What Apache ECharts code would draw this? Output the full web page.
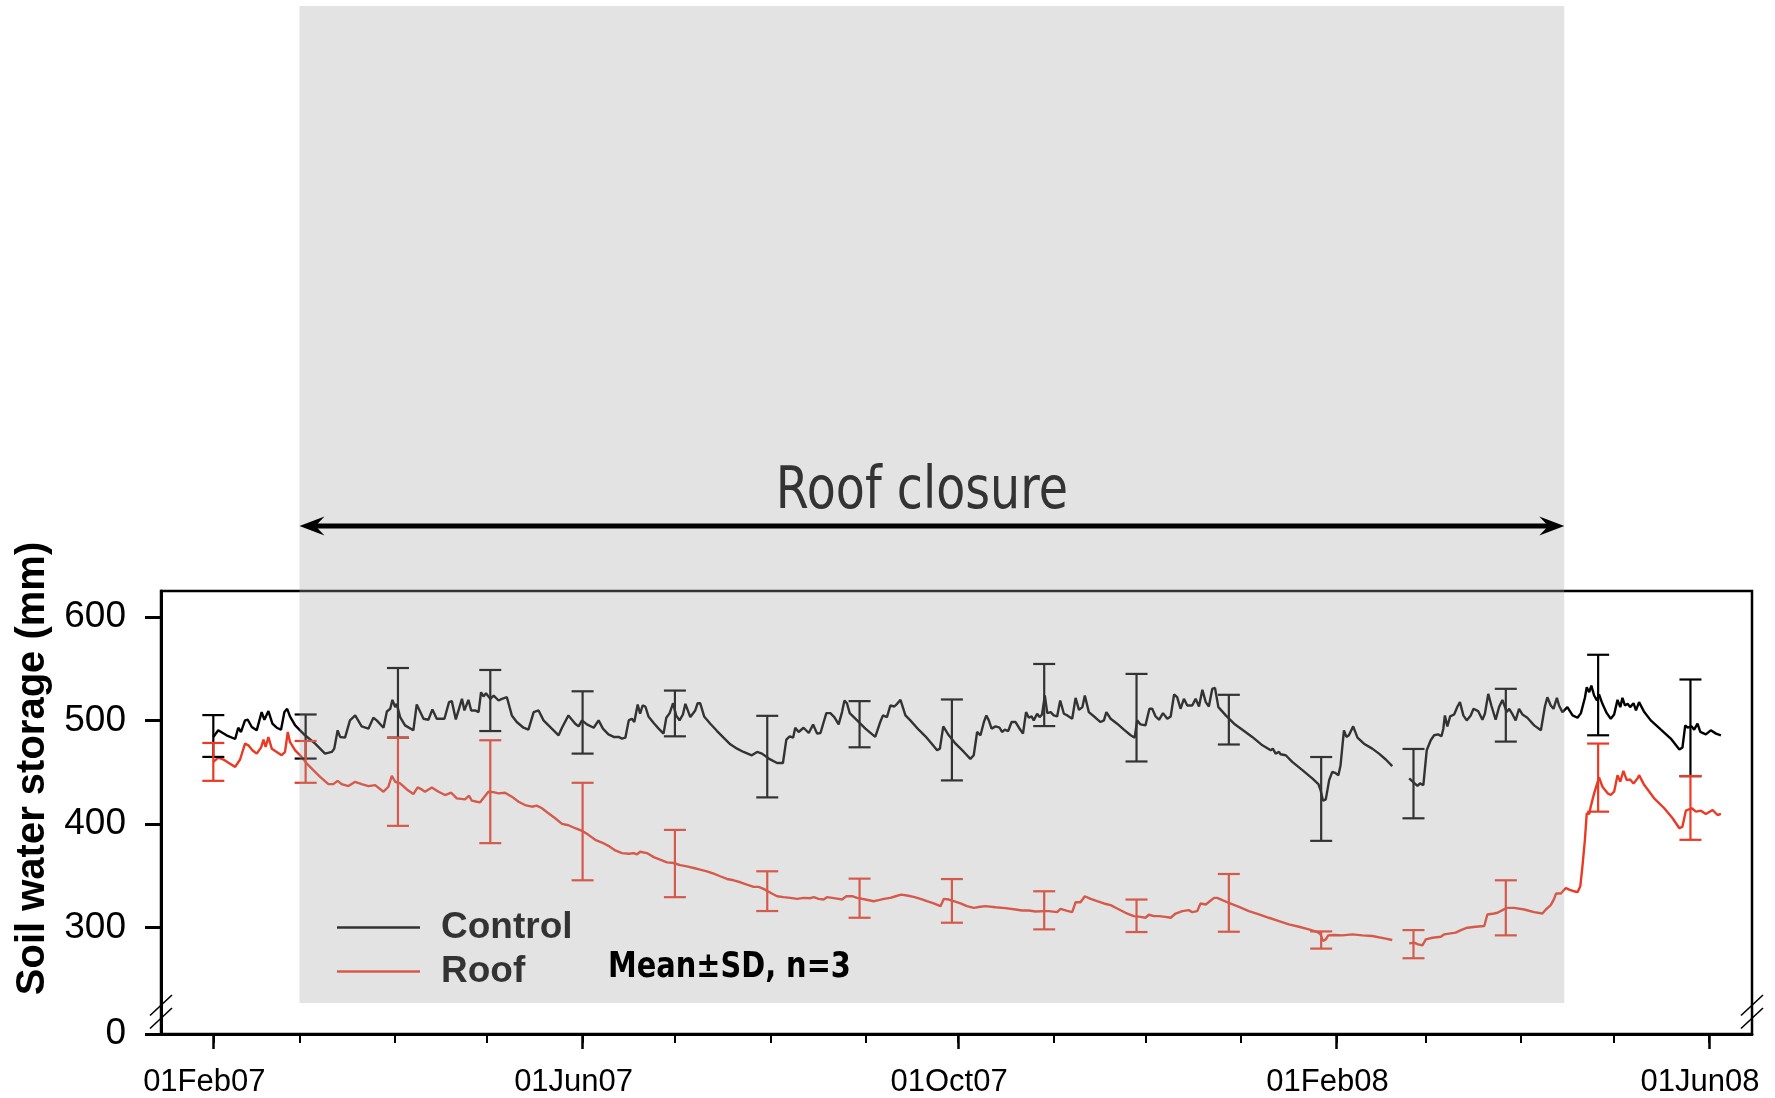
<!DOCTYPE html>
<html>
<head>
<meta charset="utf-8">
<title>Soil water storage</title>
<script src="https://cdn.jsdelivr.net/npm/echarts@6/dist/echarts.min.js"></script>
<style>
  html, body { margin: 0; padding: 0; background: #fff; }
  #chart { width: 1775px; height: 1098px; }
</style>
</head>
<body>
<div id="chart"></div>
<script>
// Day 0 of the record is 01 Feb 2007; readings are [day, storage in mm].
const recordStart = '2007-02-01';

const controlReadings = [
  [0,484.0],[1.6,490.4],[4.3,485.6],[7.1,482.0],[8.1,492.9],[9.0,488.8],[10.3,500.0],[11.2,500.6],[12.5,493.6],[14.1,490.4],
  [15.7,508.0],[16.6,500.6],[17.9,509.0],[19.2,496.8],[20.6,492.9],[22.0,491.0],[23.1,508.0],[24.0,511.2],[24.9,503.8],[26.6,495.2],
  [29.8,485.6],[33.1,477.5],[36.3,467.9],[38.5,469.5],[39.3,472.7],[40.4,490.4],[41.2,484.0],[42.8,483.3],[44.4,500.0],[46.1,504.8],
  [48.2,494.2],[50.4,492.0],[52.0,502.5],[53.1,500.0],[55.3,492.9],[56.4,508.6],[57.5,511.2],[58.2,519.8],[59.1,512.8],[59.6,516.0],
  [60.7,503.2],[62.3,495.2],[65.0,490.4],[66.1,515.4],[68.3,501.6],[69.9,500.6],[71.2,510.6],[72.6,501.6],[75.1,501.6],[76.6,517.6],
  [77.5,518.6],[78.8,500.9],[80.8,520.8],[81.6,509.6],[82.9,519.8],[83.8,509.6],[85.1,509.6],[86.2,508.0],[87.0,527.2],[87.8,523.1],
  [88.6,526.3],[90.0,520.8],[91.1,524.0],[92.7,519.2],[93.8,520.8],[95.4,522.4],[97.0,504.8],[98.6,498.4],[100.8,492.9],[102.4,491.0],
  [104.1,508.0],[105.7,509.6],[107.3,500.0],[110.0,492.0],[112.2,485.6],[113.3,492.9],[115.4,504.8],[117.6,496.8],[118.7,494.2],[119.8,500.0],
  [121.4,496.1],[123.6,492.9],[125.2,500.0],[126.6,492.0],[128.4,486.5],[130.1,484.0],[131.7,484.0],[132.8,482.4],[133.9,483.3],[135.0,500.0],
  [136.0,501.6],[136.8,498.4],[137.9,515.4],[138.7,506.4],[139.5,514.4],[140.4,513.4],[141.4,503.8],[143.1,497.4],[144.7,492.0],[146.3,487.2],
  [147.2,502.5],[148.3,507.0],[149.4,516.6],[150.4,504.8],[151.5,500.0],[152.6,505.7],[153.4,516.0],[155.0,503.2],[156.6,509.6],[157.4,516.6],
  [158.2,516.6],[159.5,503.8],[161.5,496.8],[163.7,489.7],[165.8,483.3],[168.0,476.9],[170.2,472.7],[172.3,469.5],[175.0,466.3],[176.7,469.5],
  [178.3,467.9],[180.5,463.1],[183.2,458.8],[185.1,458.8],[186.2,481.4],[187.3,484.6],[188.4,483.3],[189.1,492.9],[190.2,488.8],[191.8,492.9],
  [193.5,487.8],[194.9,496.1],[196.2,487.2],[197.3,487.8],[199.2,507.0],[200.5,507.0],[201.8,503.2],[203.2,496.1],[204.3,508.0],[205.1,519.2],
  [205.9,516.6],[206.8,507.0],[209.2,500.0],[211.9,492.0],[215.1,484.0],[216.6,497.4],[217.6,504.8],[218.9,503.2],[220.0,514.4],[221.3,513.4],
  [222.2,516.0],[223.3,519.8],[224.9,504.8],[226.5,500.0],[229.2,491.0],[231.4,484.6],[233.6,476.9],[235.2,471.1],[236.1,472.7],[237.2,494.2],
  [239.0,485.6],[241.2,477.5],[243.9,469.5],[246.0,462.8],[247.1,466.3],[248.2,488.8],[249.3,485.6],[250.4,498.4],[251.2,504.8],[252.0,500.0],
  [252.9,492.0],[254.2,494.2],[255.5,492.9],[256.3,488.8],[257.2,491.0],[258.3,489.7],[259.4,498.4],[260.7,498.4],[261.8,492.9],[263.1,487.2],
  [264.1,508.0],[265.0,502.5],[265.9,503.8],[266.6,500.0],[267.7,506.4],[268.5,503.2],[269.3,505.7],[270.2,524.0],[271.0,507.0],[272.1,508.0],
  [273.1,504.8],[274.2,503.8],[275.2,519.2],[276.4,506.4],[277.5,504.8],[279.1,501.6],[280.2,521.8],[281.3,510.2],[282.4,512.8],[283.2,524.0],
  [284.5,508.0],[286.7,502.5],[288.3,498.4],[289.4,500.0],[290.2,508.0],[291.6,501.6],[293.7,496.8],[295.9,491.0],[298.1,485.6],[299.4,483.3],
  [300.2,500.0],[301.3,496.1],[302.9,495.2],[304.2,511.2],[305.1,511.2],[306.2,503.8],[307.3,500.6],[308.6,507.0],[310.0,501.6],[311.1,503.8],
  [312.2,525.0],[313.2,522.4],[314.3,511.2],[315.4,520.8],[316.5,514.4],[318.1,514.4],[319.2,520.8],[320.3,513.4],[321.4,529.5],[322.5,517.6],
  [323.5,513.4],[324.6,530.4],[325.5,531.4],[326.6,512.8],[329.0,504.8],[331.7,496.8],[334.4,491.0],[337.6,484.0],[340.9,475.9],[343.6,471.1],
  [344.3,472.7],[345.2,467.9],[346.3,469.5],[346.8,467.3],[348.5,466.3],[350.6,459.9],[353.9,451.9],[357.1,443.9],[359.1,438.4],[359.8,432.7],
  [360.6,422.4],[361.5,423.7],[362.6,442.3],[363.6,450.3],[364.5,449.3],[365.6,447.1],[366.3,456.7],[367.4,490.4],[368.2,484.0],[369.0,485.6],
  [370.4,494.2],[371.8,483.3],[373.9,477.5],[376.6,472.7],[378.8,467.9],[381.0,462.2],[383.1,455.8],[385.8,null],[388.6,443.9],[390.2,439.7],
  [391.3,436.8],[392.1,439.1],[393.2,437.5],[394.3,471.1],[395.6,480.8],[396.7,485.6],[398.0,486.5],[399.1,484.6],[399.7,492.0],[400.2,504.8],
  [401.0,494.2],[401.9,503.8],[403.2,505.7],[404.3,513.4],[405.1,517.6],[406.2,504.8],[407.3,500.0],[408.6,504.8],[409.5,511.2],[411.0,509.0],
  [412.4,500.6],[413.2,506.4],[414.3,525.6],[415.3,514.4],[416.7,500.6],[417.8,512.8],[418.9,519.8],[420.3,508.0],[421.1,511.2],[422.2,505.7],
  [423.2,500.0],[424.3,511.2],[425.4,505.7],[427.0,502.5],[429.2,495.2],[431.4,490.4],[432.7,513.4],[433.5,522.4],[434.6,514.4],[435.5,511.2],
  [436.6,521.8],[437.3,514.4],[438.4,508.0],[440.0,512.8],[441.7,504.8],[443.3,502.5],[444.4,507.0],[445.7,521.8],[446.3,532.0],[447.1,527.2],
  [447.8,533.6],[448.7,524.0],[449.6,519.2],[450.3,525.0],[451.4,516.0],[452.8,507.0],[454.1,501.6],[455.2,505.7],[456.3,519.8],[457.2,512.8],
  [457.9,521.8],[458.7,514.4],[459.6,516.0],[460.4,512.8],[461.5,516.6],[462.3,509.6],[463.3,517.6],[465.0,508.0],[467.1,500.0],[470.4,491.0],
  [473.6,482.4],[476.4,471.8],[477.4,473.7],[478.3,495.2],[479.1,492.9],[480.4,494.2],[481.2,491.0],[482.3,496.8],[483.2,488.8],[485.0,486.5],
  [486.6,490.4],[488.3,487.2],[489.9,485.6]
];

const roofReadings = [
  [0,459.9],[1.6,464.1],[3.3,462.2],[4.9,459.0],[7.1,455.1],[8.7,462.2],[9.2,464.1],[10.3,477.5],[11.4,475.9],[12.7,471.1],
  [14.1,467.9],[15.5,473.7],[16.3,481.4],[17.0,474.3],[17.9,483.9],[19.0,472.7],[20.6,469.5],[22.2,466.3],[23.3,469.5],[24.2,488.8],
  [24.9,479.2],[26.6,471.1],[28.7,464.7],[30.4,458.3],[32.5,451.9],[34.7,445.5],[37.4,438.4],[39.0,438.4],[40.4,441.6],[41.7,438.4],
  [43.9,436.5],[46.1,440.7],[48.2,438.4],[50.4,436.5],[52.6,437.5],[55.3,431.1],[56.9,435.9],[58.0,446.5],[59.1,440.7],[60.7,439.1],
  [62.9,433.3],[65.0,428.8],[66.4,435.2],[67.7,433.3],[68.8,431.1],[71.0,435.2],[73.2,431.1],[75.3,427.9],[77.3,430.1],[79.1,424.7],
  [81.8,423.7],[83.1,427.2],[84.0,422.4],[85.6,421.4],[86.7,420.8],[88.3,426.9],[89.4,431.1],[91.0,430.7],[92.7,429.5],[94.8,430.1],
  [97.0,426.3],[99.2,421.4],[101.3,418.2],[103.5,416.6],[105.1,417.6],[106.8,415.1],[108.9,410.2],[111.1,405.4],[113.3,400.0],[115.4,398.7],
  [117.6,395.8],[119.8,393.3],[121.9,389.4],[124.1,384.6],[126.3,382.0],[128.4,378.8],[130.6,374.3],[132.8,371.8],[135.0,371.1],[136.6,371.8],
  [137.7,370.5],[138.7,373.1],[140.9,371.8],[143.1,367.9],[145.2,365.4],[147.4,362.8],[149.6,362.2],[151.7,360.2],[153.9,358.9],[156.1,357.4],
  [158.2,355.8],[160.4,354.2],[162.6,351.9],[164.7,349.4],[166.9,346.8],[169.1,345.5],[171.3,343.6],[173.4,341.3],[175.6,339.1],[177.2,339.1],
  [178.8,337.2],[181.5,332.7],[183.2,330.1],[185.3,329.2],[187.5,328.5],[189.7,327.6],[191.8,328.5],[194.0,328.2],[195.1,329.2],[196.7,327.6],
  [198.3,326.9],[199.4,329.2],[201.1,328.5],[203.2,327.6],[204.3,326.9],[205.7,330.1],[207.6,330.1],[209.2,328.5],[211.9,326.9],[214.6,325.3],
  [216.2,326.3],[217.9,327.6],[220.0,328.5],[221.7,330.1],[223.5,331.7],[225.4,330.8],[227.6,329.5],[229.8,327.6],[231.9,325.3],[234.1,323.1],
  [236.3,320.5],[237.4,327.6],[239.0,326.9],[240.6,325.3],[242.8,323.1],[244.9,320.5],[247.1,318.9],[249.3,319.9],[250.9,320.5],[254.2,319.5],
  [257.4,318.6],[260.7,317.3],[262.8,316.3],[265.0,316.3],[267.2,315.4],[270.2,315.7],[271.5,315.7],[274.2,314.7],[275.3,317.9],[277.5,316.0],
  [279.1,314.7],[280.2,324.3],[281.8,324.3],[283.2,330.1],[285.1,327.6],[287.2,325.3],[289.4,323.1],[291.6,321.5],[293.7,318.3],[296.4,314.1],
  [299.1,310.9],[301.3,310.2],[302.9,309.3],[304.0,312.2],[305.7,310.9],[307.3,310.9],[309.4,310.2],[311.1,309.3],[312.7,313.4],[314.9,315.7],
  [317.0,316.7],[318.1,314.7],[319.7,315.7],[320.8,323.1],[322.5,322.1],[323.8,325.3],[325.2,328.5],[326.2,328.5],[327.9,326.3],[330.4,323.1],
  [333.3,319.9],[336.5,315.7],[339.8,312.5],[343.0,309.3],[346.3,306.1],[349.5,302.9],[352.8,300.6],[356.0,298.1],[358.8,295.5],[359.8,293.3],
  [360.6,286.9],[361.5,288.4],[362.3,292.3],[364.2,292.6],[366.9,292.3],[370.1,293.3],[373.4,292.3],[376.6,291.7],[381.0,289.1],[383.1,287.8],
  [385.8,null],[388.6,284.6],[390.2,285.2],[391.5,283.6],[392.9,282.7],[394.0,288.4],[396.2,290.0],[398.9,291.0],[400.0,293.3],[402.1,294.2],
  [403.7,294.9],[405.4,297.4],[407.5,299.7],[410.2,300.6],[413.0,301.3],[414.0,312.5],[416.2,313.4],[417.3,314.1],[420.3,318.9],[422.7,318.9],
  [426.0,317.3],[429.2,314.7],[431.9,313.4],[433.0,317.3],[434.6,321.5],[435.7,327.6],[436.3,332.7],[437.9,332.7],[438.8,335.9],[439.5,338.1],
  [440.6,336.5],[442.2,334.9],[443.3,334.0],[444.2,339.7],[444.9,359.0],[445.7,384.6],[446.3,410.2],[447.1,409.6],[447.6,416.7],[448.7,429.5],
  [450.3,444.9],[451.4,435.9],[453.1,429.5],[454.1,427.9],[455.2,431.1],[456.3,447.1],[457.2,440.7],[458.2,451.3],[459.3,442.3],[460.4,442.9],
  [461.5,439.1],[462.8,443.9],[463.3,447.1],[465.0,437.5],[468.2,424.7],[471.5,415.1],[474.2,405.4],[476.4,395.8],[477.4,397.4],[478.5,412.8],
  [480.4,415.1],[481.8,411.8],[483.4,412.8],[485.0,409.6],[487.2,413.4],[488.8,408.6],[489.9,409.6]
];

// Mean ± SD of the three plots, sampled every 30 days
const sdDays      = [0, 30, 60, 90, 120, 150, 180, 210, 240, 270, 300, 330, 360, 390, 420, 450, 480];
const controlMean = [484.9, 484.4, 517.0, 519.2, 498.0, 506.7, 465.0, 496.3, 481.1, 524.5, 502.6, 500.7, 424.1, 438.9, 505.0, 524.5, 492.8];
const controlSD   = [20.2, 21.3, 33.6, 29.5, 30.1, 22.1, 39.4, 22.3, 39.1, 30.0, 42.3, 24.0, 40.5, 33.5, 25.5, 38.9, 46.7];
const roofMean    = [459.9, 459.9, 440.7, 431.1, 392.6, 361.7, 335.0, 328.2, 325.6, 316.5, 311.2, 323.7, 287.8, 283.8, 318.9, 444.7, 415.4];
const roofSD      = [18.3, 20.2, 42.6, 49.7, 47.1, 32.5, 19.2, 18.9, 21.1, 18.4, 15.7, 27.9, 8.3, 13.6, 26.6, 32.9, 30.8];

// Axes
const xRange = ['2007-01-15', '2008-06-15'];
const labelledTickDates = ['2007-02-01', '2007-06-01', '2007-10-01', '2008-02-01', '2008-06-01'];
const monthTickDates = ['2007-02-01','2007-03-01','2007-04-01','2007-05-01','2007-06-01','2007-07-01','2007-08-01','2007-09-01',
  '2007-10-01','2007-11-01','2007-12-01','2008-01-01','2008-02-01','2008-03-01','2008-04-01','2008-05-01','2008-06-01'];
const yTickValues = [300, 400, 500, 600];
const yBreakValue = 197;      // bottom of the broken axis, labelled as 0
const yBreakLabel = '0';
const yMax = 625;

// Roof closure period
const roofClosure = ['2007-03-01', '2008-04-15'];

const DAY = 86400000;
const MONTHS = ['Jan','Feb','Mar','Apr','May','Jun','Jul','Aug','Sep','Oct','Nov','Dec'];
function ts(s) { const p = s.split('-').map(Number); return Date.UTC(p[0], p[1] - 1, p[2]); }
function dateLabel(v) {
  const d = new Date(v);
  return String(d.getUTCDate()).padStart(2, '0') + MONTHS[d.getUTCMonth()] + String(d.getUTCFullYear() % 100).padStart(2, '0');
}
const T0 = ts(recordStart);
const toPoints = rows => rows.map(r => [T0 + r[0] * DAY, r[1] === null ? '-' : r[1]]);
const toBars = (mean, sd) => sdDays.map((d, i) => [T0 + d * DAY, mean[i] - sd[i], mean[i] + sd[i]]);

const FONT = "'Liberation Sans', Arial, Helvetica, sans-serif";
const BLACK = '#000000';
const RED = '#ea3a24';

function errorBarRenderer(color) {
  return function (params, api) {
    const x = api.value(0);
    const lo = api.coord([x, api.value(1)]);
    const hi = api.coord([x, api.value(2)]);
    const half = 11;
    const style = { stroke: color, lineWidth: 2.2 };
    return {
      type: 'group',
      children: [
        { type: 'line', shape: { x1: lo[0], y1: lo[1], x2: hi[0], y2: hi[1] }, style: style },
        { type: 'line', shape: { x1: lo[0] - half, y1: lo[1], x2: lo[0] + half, y2: lo[1] }, style: style },
        { type: 'line', shape: { x1: hi[0] - half, y1: hi[1], x2: hi[0] + half, y2: hi[1] }, style: style }
      ]
    };
  };
}

const chart = echarts.init(document.getElementById('chart'), null, { renderer: 'canvas' });

const option = {
  animation: false,
  backgroundColor: '#ffffff',
  grid: { left: 161, right: 23, top: 591, bottom: 63, show: true, borderColor: BLACK, borderWidth: 2.5, backgroundColor: 'transparent' },
  legend: {
    data: ['Control', 'Roof'],
    orient: 'vertical',
    left: 332, top: 904,
    icon: 'rect', itemWidth: 83, itemHeight: 2.5, itemGap: 7,
    selectedMode: false,
    textStyle: { fontFamily: FONT, fontSize: 37, fontWeight: 'bold', color: BLACK, lineHeight: 37, padding: [0, 0, 0, 16] }
  },
  xAxis: [
    {
      type: 'value', min: ts(xRange[0]), max: ts(xRange[1]),
      axisLine: { onZero: false, lineStyle: { color: BLACK, width: 3 } },
      axisTick: { customValues: labelledTickDates.map(ts), length: 15, lineStyle: { color: BLACK, width: 2.5 } },
      axisLabel: { customValues: labelledTickDates.map(ts), formatter: dateLabel, fontFamily: FONT, fontSize: 31, color: BLACK, margin: 33, padding: [0, 18, 0, 0] },
      splitLine: { show: false }
    },
    {
      type: 'value', gridIndex: 0, position: 'bottom', min: ts(xRange[0]), max: ts(xRange[1]),
      axisLine: { show: false, onZero: false },
      axisTick: { customValues: monthTickDates.map(ts), length: 9, lineStyle: { color: BLACK, width: 2 } },
      axisLabel: { show: false },
      splitLine: { show: false }
    }
  ],
  yAxis: {
    type: 'value', min: yBreakValue, max: yMax,
    axisLine: { show: true, onZero: false, lineStyle: { color: BLACK, width: 3 } },
    axisTick: { show: true, customValues: [yBreakValue].concat(yTickValues), length: 16, lineStyle: { color: BLACK, width: 3 } },
    axisLabel: {
      customValues: [yBreakValue].concat(yTickValues),
      formatter: v => (v === yBreakValue ? yBreakLabel : String(v)),
      fontFamily: FONT, fontSize: 37, color: BLACK, margin: 35
    },
    splitLine: { show: false }
  },
  series: [
    {
      name: 'Control', type: 'line', data: toPoints(controlReadings),
      symbol: 'none', showSymbol: false, connectNulls: false,
      lineStyle: { color: BLACK, width: 2.4 }, itemStyle: { color: BLACK }, z: 3
    },
    {
      name: 'Roof', type: 'line', data: toPoints(roofReadings),
      symbol: 'none', showSymbol: false, connectNulls: false,
      lineStyle: { color: RED, width: 2.4 }, itemStyle: { color: RED }, z: 3
    },
    {
      name: 'Control SD', type: 'custom', data: toBars(controlMean, controlSD),
      renderItem: errorBarRenderer(BLACK), encode: { x: 0, y: [1, 2] }, z: 4
    },
    {
      name: 'Roof SD', type: 'custom', data: toBars(roofMean, roofSD),
      renderItem: errorBarRenderer(RED), encode: { x: 0, y: [1, 2] }, z: 4
    }
  ]
};

chart.setOption(option);

// Annotations positioned from the axes
const px = v => chart.convertToPixel({ xAxisIndex: 0 }, v);
const py = v => chart.convertToPixel({ yAxisIndex: 0 }, v);
const xa = px(ts(roofClosure[0]));
const xb = px(ts(roofClosure[1]));
const leftX = px(ts(xRange[0]));
const rightX = px(ts(xRange[1]));
const baseY = py(yBreakValue);
const arrowY = 526;
const headLen = 25, headHalf = 9.5, notch = 16;

function breakMarks(x) {
  const s = { stroke: BLACK, lineWidth: 1.6 };
  return [
    { type: 'line', z: 60, silent: true, shape: { x1: x + 11, y1: baseY - 39, x2: x - 11, y2: baseY - 18.5 }, style: s },
    { type: 'line', z: 60, silent: true, shape: { x1: x + 11, y1: baseY - 26, x2: x - 11, y2: baseY - 5.5 }, style: s }
  ];
}

chart.setOption({
  graphic: [
    // shaded roof-closure period, drawn over the plot
    { type: 'rect', z: 50, silent: true, shape: { x: xa, y: 6, width: xb - xa, height: 997 }, style: { fill: 'rgba(165,165,165,0.31)' } },
    // double-headed arrow
    { type: 'line', z: 60, silent: true, shape: { x1: xa + notch, y1: arrowY, x2: xb - notch, y2: arrowY }, style: { stroke: BLACK, lineWidth: 5 } },
    { type: 'polygon', z: 60, silent: true, shape: { points: [[xa, arrowY], [xa + headLen, arrowY - headHalf], [xa + notch, arrowY], [xa + headLen, arrowY + headHalf]] }, style: { fill: BLACK } },
    { type: 'polygon', z: 60, silent: true, shape: { points: [[xb, arrowY], [xb - headLen, arrowY - headHalf], [xb - notch, arrowY], [xb - headLen, arrowY + headHalf]] }, style: { fill: BLACK } },
    { type: 'text', z: 60, silent: true, x: (xa + xb) / 2 - 10, y: 493, scaleX: 0.82,
      style: { text: 'Roof closure', fontFamily: "'DejaVu Sans', sans-serif", fontSize: 58, fill: '#333333', align: 'center', verticalAlign: 'middle' } },
    { type: 'text', z: 60, silent: true, x: 608, y: 968, scaleX: 0.824,
      style: { text: 'Mean\u00b1SD, n=3', fontFamily: "'DejaVu Sans', sans-serif", fontSize: 35, fontWeight: 'bold', fill: BLACK, align: 'left', verticalAlign: 'middle' } },
    // axis title
    { type: 'text', z: 60, silent: true, x: 32.5, y: 768.5, rotation: Math.PI / 2,
      style: { text: 'Soil water storage (mm)', fontFamily: FONT, fontSize: 40, fontWeight: 'bold', fill: BLACK, align: 'center', verticalAlign: 'middle' } }
  ].concat(breakMarks(leftX), breakMarks(rightX))
});
</script>
</body>
</html>
